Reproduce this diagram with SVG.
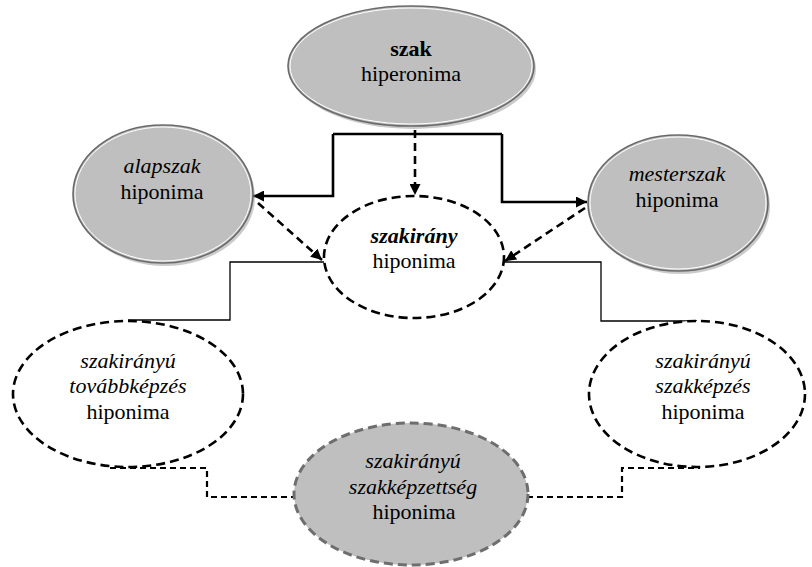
<svg xmlns="http://www.w3.org/2000/svg" width="812" height="567" viewBox="0 0 812 567">
<defs>
<marker id="arr" viewBox="0 0 10 10" refX="10" refY="5" markerWidth="11" markerHeight="11" markerUnits="userSpaceOnUse" orient="auto">
<path d="M0,0 L10,5 L0,10 Z" fill="#000"/>
</marker>
</defs>
<style>
.t{font-size:22px;fill:#000;text-anchor:middle}
.it{font-style:italic}
.b{font-weight:bold}
.shadow{fill:#8c8c8c;opacity:0.45}
.gray{fill:#bfbfbf;stroke:#6a6a6a;stroke-width:1.6}
.hl{fill:none;stroke:#fff;stroke-width:1}
.dash{fill:#fff;stroke:#000;stroke-width:2.6;stroke-dasharray:9 5}
.dashg{fill:#bfbfbf;stroke:#6e6e6e;stroke-width:3;stroke-dasharray:9 5}
.thick{fill:none;stroke:#000;stroke-width:2.6}
.thin{fill:none;stroke:#000;stroke-width:1.3}
.dline{fill:none;stroke:#000;stroke-width:2.6;stroke-dasharray:8 5}
.dthin{fill:none;stroke:#000;stroke-width:2.2;stroke-dasharray:6 4}
</style>
<g id="connectors">
<path class="thick" d="M333,134 H502"/>
<path class="thick" d="M333,134 V196 H253" marker-end="url(#arr)"/>
<path class="thick" d="M502,134 V202 H587" marker-end="url(#arr)"/>
<path class="dline" d="M415,130 V195" marker-end="url(#arr)"/>
<path class="dline" d="M258,203 L322,260" marker-end="url(#arr)"/>
<path class="dline" d="M585,208 L505,261" marker-end="url(#arr)"/>
<path class="thin" d="M324,262 H230 V320 H128"/>
<path class="thin" d="M504,262 H601 V321 H697"/>
<path class="dthin" d="M110,468 H207 V497 H296"/>
<path class="dthin" d="M527,497 H622 V468 H700"/>
</g>
<g font-family="Liberation Serif, Times New Roman, serif">
<g id="szak">
<ellipse class="shadow" cx="413" cy="69" rx="123" ry="60"/>
<ellipse class="gray" cx="411" cy="66" rx="123" ry="60"/>
<ellipse class="hl" cx="411" cy="66" rx="121" ry="58"/>
<text x="411" y="56" class="t b">szak</text>
<text x="411" y="81" class="t">hiperonima</text>
</g>
<g id="alapszak">
<ellipse class="shadow" cx="165" cy="197" rx="90" ry="69"/>
<ellipse class="gray" cx="163" cy="194" rx="90" ry="69"/>
<ellipse class="hl" cx="163" cy="194" rx="88" ry="67"/>
<text x="162" y="173" class="t it">alapszak</text>
<text x="162" y="199" class="t">hiponima</text>
</g>
<g id="mesterszak">
<ellipse class="shadow" cx="680" cy="206" rx="90" ry="68"/>
<ellipse class="gray" cx="678" cy="203" rx="90" ry="68"/>
<ellipse class="hl" cx="678" cy="203" rx="88" ry="66"/>
<text x="677" y="181" class="t it">mesterszak</text>
<text x="677" y="207" class="t">hiponima</text>
</g>
<g id="szakirany">
<ellipse class="dash" cx="414" cy="257" rx="90" ry="61"/>
<text x="414" y="243" class="t it b">szakirány</text>
<text x="414" y="268" class="t">hiponima</text>
</g>
<g id="tovabbkepzes">
<ellipse class="dash" cx="128" cy="394" rx="115" ry="73"/>
<text x="128" y="368" class="t it">szakirányú</text>
<text x="128" y="393" class="t it">továbbképzés</text>
<text x="128" y="419" class="t">hiponima</text>
</g>
<g id="szakkepzes">
<ellipse class="dash" cx="697" cy="394" rx="108" ry="73"/>
<text x="703" y="368" class="t it">szakirányú</text>
<text x="703" y="393" class="t it">szakképzés</text>
<text x="703" y="419" class="t">hiponima</text>
</g>
<g id="szakkepzettseg">
<ellipse class="dashg" cx="411" cy="494" rx="117" ry="71"/>
<text x="413" y="468" class="t it">szakirányú</text>
<text x="413" y="494" class="t it">szakképzettség</text>
<text x="414" y="519" class="t">hiponima</text>
</g>
</g>
</svg>
